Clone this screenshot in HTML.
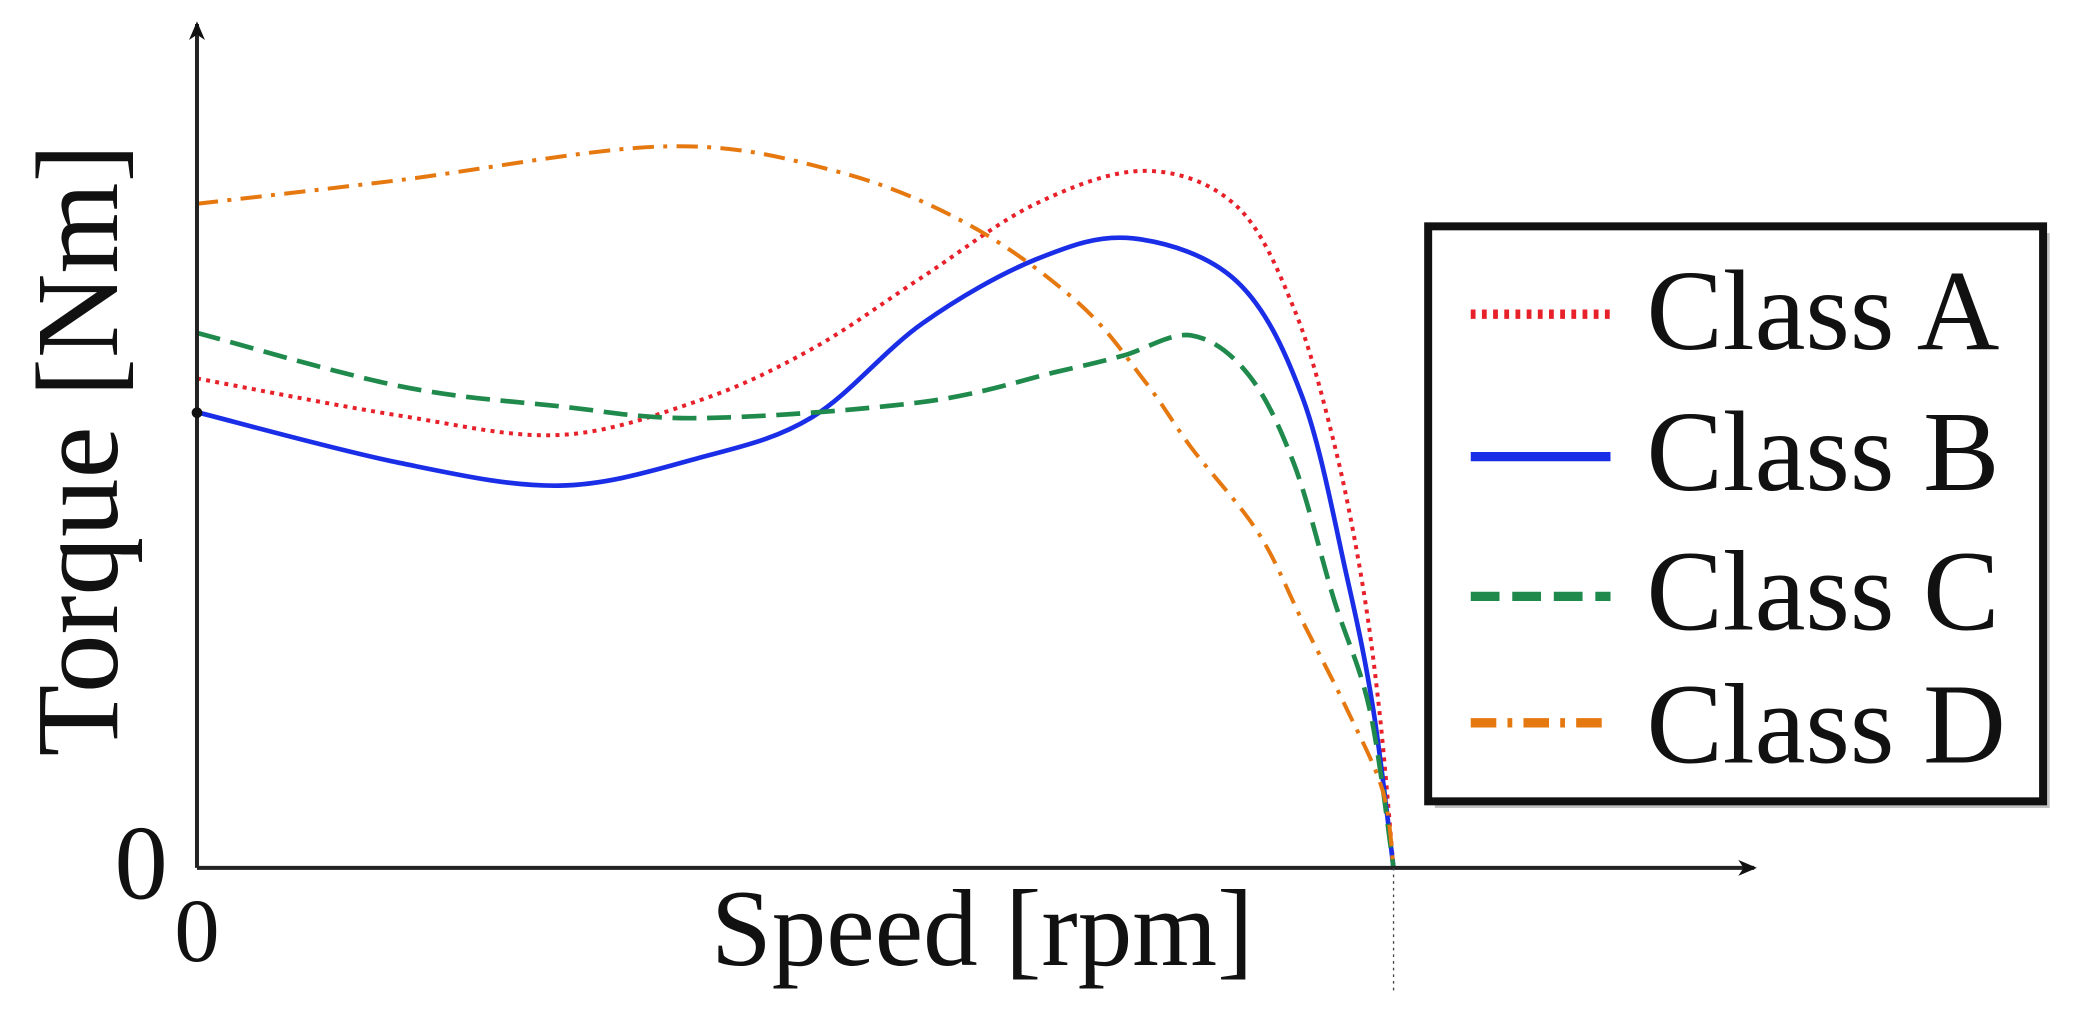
<!DOCTYPE html>
<html><head><meta charset="utf-8"><style>
html,body{margin:0;padding:0;background:#fff;overflow:hidden}
svg{display:block}
text{font-family:"Liberation Serif",serif;fill:#111}
</style></head><body>
<svg width="2087" height="1025" viewBox="0 0 1568 770">
<defs><marker id="ah" markerWidth="14" markerHeight="12" refX="12" refY="6" orient="auto" markerUnits="userSpaceOnUse" viewBox="0 0 14 12"><path d="M0,0 L14,6 L0,12 L4,6 z" fill="#111"/></marker></defs>
<g id="plot"></g>
<line x1="148" y1="652" x2="148" y2="18" stroke="#222" stroke-width="3" marker-end="url(#ah)"/>
<line x1="148" y1="652" x2="1318" y2="652" stroke="#222" stroke-width="3" marker-end="url(#ah)"/>
<line x1="1047" y1="652" x2="1047" y2="745" stroke="#444" stroke-width="1" stroke-dasharray="2,3"/>
<circle cx="148" cy="310" r="4" fill="#111"/>
<text x="86" y="675" font-size="80">0</text>
<text x="131" y="722" font-size="68">0</text>
<text x="738" y="725" font-size="82" text-anchor="middle">Speed [rpm]</text>
<text transform="translate(88,338) rotate(-90)" font-size="88" text-anchor="middle">Torque [Nm]</text>
<g>
<rect x="1078" y="175" width="462" height="432" fill="#999" opacity="0.6"/>
<rect x="1073" y="170" width="462" height="432" fill="#fff" stroke="#111" stroke-width="6"/>
<g id="leg"></g>
</g>
</svg>
<script>
const seriesNames=["Class A","Class B","Class C","Class D"];
const speedA=[0,16.9,30.3,42,51.4,60.6,70.1,79.3,86.9,91.7,95,97.3,98.8,100];
const torqueA=[58,53.6,51.3,55.4,61.5,70,78.7,82.6,78.4,66.2,50.5,34.5,18.8,0];
const speedB=[0,16.9,30.3,42,51.4,60.6,70.1,78.2,86.9,92.4,96.1,98.3,100];
const torqueB=[54,48,45.3,48.6,53.4,64.5,72.1,74.6,69.5,55.7,34.5,18.8,0];
const speedC=[0,16.9,30.3,42,60.6,71.9,77.4,83.1,87.9,91.7,95,98,100];
const torqueC=[63.4,57.1,54.7,53.3,55.2,58.8,60.7,63.1,58.4,47.8,31.9,18.8,0];
const speedD=[0,16.9,39.2,53.3,64.4,73.7,79.3,83.1,88.7,92.4,96.1,99.1,100];
const torqueD=[78.7,81.5,85.5,82.6,76.3,66.9,57.5,49.8,39.7,29.2,18.8,9.1,0];
const colors=["#e8202a","#1a2ee8","#1f8a4c","#e67810"];
const dashes=["3,4","","18,8","16,7,3,7"];
const widths=[3,3.5,3.5,3];
const sx=v=>148+v*8.99, sy=v=>652-v*6.34;
function path(xs,ys){
  const p=xs.map((x,i)=>[sx(x),sy(ys[i])]);
  let d="M"+p[0][0]+","+p[0][1];
  for(let i=0;i<p.length-1;i++){
    const p0=p[Math.max(0,i-1)],p1=p[i],p2=p[i+1],p3=p[Math.min(p.length-1,i+2)];
    const c1=[p1[0]+(p2[0]-p0[0])/6,p1[1]+(p2[1]-p0[1])/6];
    const c2=[p2[0]-(p3[0]-p1[0])/6,p2[1]-(p3[1]-p1[1])/6];
    d+=` C${c1[0]},${c1[1]} ${c2[0]},${c2[1]} ${p2[0]},${p2[1]}`;
  }
  return d;
}
const data=[[speedA,torqueA],[speedB,torqueB],[speedC,torqueC],[speedD,torqueD]];
const NS="http://www.w3.org/2000/svg";
const plot=document.getElementById("plot"),leg=document.getElementById("leg");
const ly=[236,343,448,543];
const tb=[262,368,473,573];
data.forEach((s,i)=>{
  const el=document.createElementNS(NS,"path");
  el.setAttribute("d",path(s[0],s[1]));
  el.setAttribute("fill","none");el.setAttribute("stroke",colors[i]);
  el.setAttribute("stroke-width",widths[i]);
  if(dashes[i])el.setAttribute("stroke-dasharray",dashes[i]);
  
  
  plot.appendChild(el);
  const l=document.createElementNS(NS,"line");
  l.setAttribute("x1",1105);l.setAttribute("x2",1210);l.setAttribute("y1",ly[i]);l.setAttribute("y2",ly[i]);
  l.setAttribute("stroke",colors[i]);l.setAttribute("stroke-width",7);
  if(dashes[i])l.setAttribute("stroke-dasharray",dashes[i].split(",").map(v=>v*1.2).join(","));
  
  
  leg.appendChild(l);
  const t=document.createElementNS(NS,"text");
  t.setAttribute("x",1237);t.setAttribute("y",tb[i]);t.setAttribute("font-size","86");
  t.textContent=seriesNames[i];
  
  
  leg.appendChild(t);
});
</script>
</body></html>
